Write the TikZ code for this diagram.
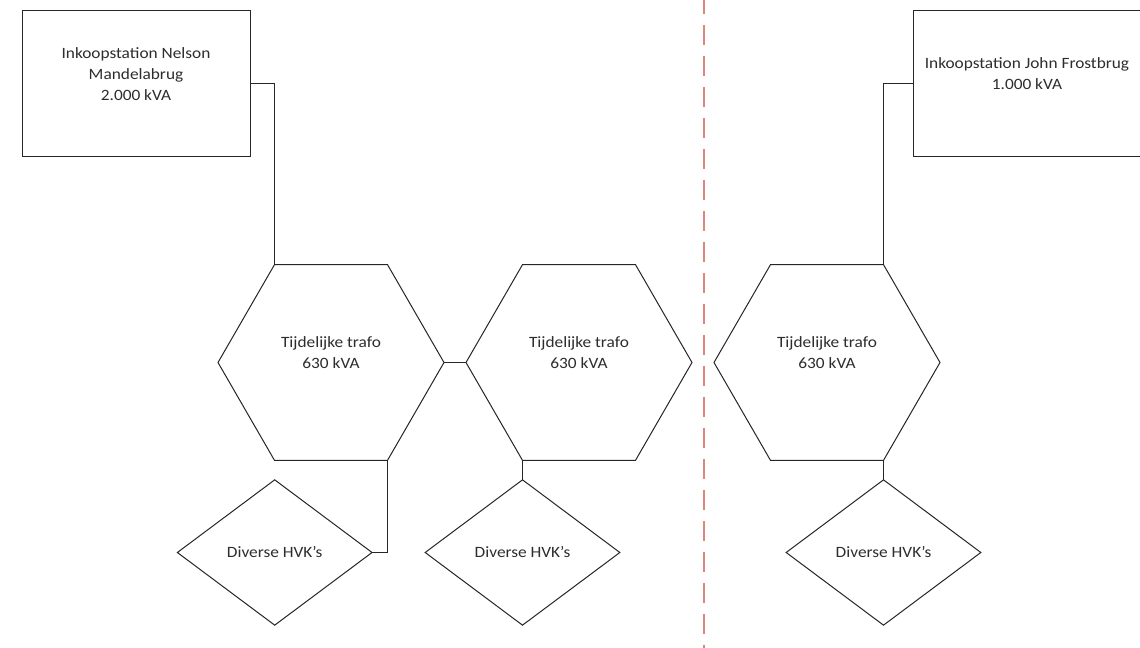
\documentclass[tikz,border=0pt]{standalone}
\usepackage{fontspec}
\setmainfont{Carlito}[FakeStretch=1.1]
\usetikzlibrary{shapes.geometric}
\definecolor{txt}{RGB}{45,45,45}
\definecolor{sepred}{RGB}{224,132,126}
\tikzset{
  lbl/.style={font=\fontsize{11.8}{15.75}\selectfont, text=txt, align=center, inner sep=0pt},
  stationbox/.style={draw=black!85, line width=0.75pt, rectangle, minimum width=171pt, minimum height=109.5pt, inner sep=0pt, outer sep=0pt},
  trafo/.style={draw=black!85, line width=0.75pt, regular polygon, regular polygon sides=6, minimum size=169.5pt, inner sep=0pt, outer sep=0pt},
  hvk/.style={draw=black!85, line width=0.75pt, diamond, minimum width=146pt, minimum height=109pt, inner sep=0pt, outer sep=0pt},
  wire/.style={draw=black!85, line width=0.75pt},
  divider/.style={draw=sepred, line width=1.2pt, dash pattern=on 15pt off 8.25pt, dash phase=4.5pt}
}
\begin{document}
\begin{tikzpicture}[x=0.75pt,y=-0.75pt]
\useasboundingbox (0,0) rectangle (1140,648);
\clip (0,0) rectangle (1140,648);
\fill[white] (0,0) rectangle (1140,648);

% divider
\coordinate (dtop) at (704,0);
\coordinate (dbot) at (704,648);
\draw[divider] (dtop) -- (dbot);

% stations
\node[stationbox] (b1) at (136,84) {};
\node[lbl] (b1t) at (136,74) {Inkoopstation Nelson\\Mandelabrug\\2.000 kVA};
\node[stationbox] (b2) at (1027,84) {};
\node[lbl] (b2t) at (1027,73.5) {Inkoopstation John Frostbrug\\1.000 kVA};

% transformers
\node[trafo] (h1) at (331,362.5) {};
\node[lbl] (h1t) at (331,352.2) {Tijdelijke trafo\\630 kVA};
\node[trafo] (h2) at (579,362.5) {};
\node[lbl] (h2t) at (579,352.2) {Tijdelijke trafo\\630 kVA};
\node[trafo] (h3) at (827,362.5) {};
\node[lbl] (h3t) at (827,352.2) {Tijdelijke trafo\\630 kVA};

% HVK diamonds
\node[hvk] (d1) at (274.7,552.5) {};
\node[lbl] (d1t) at (274.7,552.5) {Diverse HVK’s};
\node[hvk] (d2) at (522.5,552.5) {};
\node[lbl] (d2t) at (522.5,552.5) {Diverse HVK’s};
\node[hvk] (d3) at (883.5,552.5) {};
\node[lbl] (d3t) at (883.5,552.5) {Diverse HVK’s};

% connectors
\draw[wire] (b1.east) -| (h1.120);
\draw[wire] (b2.west) -| (h3.60);
\draw[wire] (h1.east) -- (h2.west);
\draw[wire] (h1.300) |- (d1.east);
\draw[wire] (d2.north) -- (d2.north |- h2.south);
\draw[wire] (d3.north) -- (d3.north |- h3.south);
\end{tikzpicture}
\end{document}
